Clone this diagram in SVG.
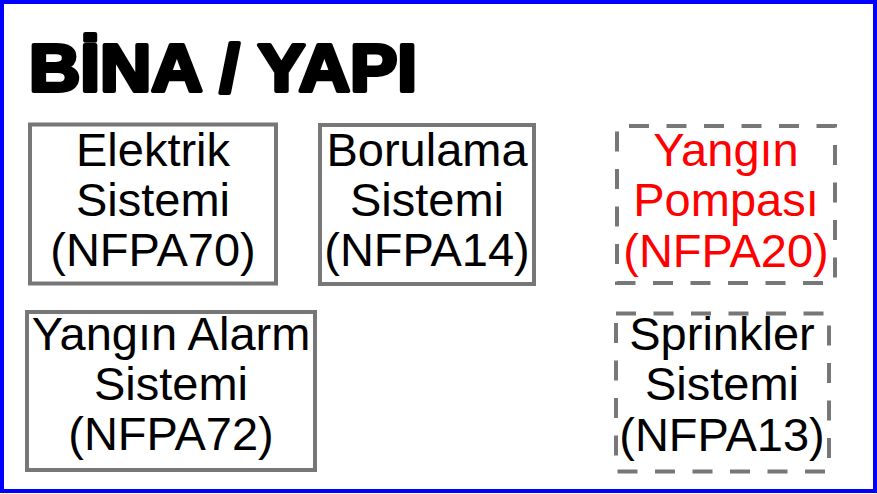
<svg xmlns="http://www.w3.org/2000/svg" width="877" height="494" viewBox="0 0 877 494">
<style>
.frame{fill:#fff;stroke:#0000ff;stroke-width:4}
.box{fill:#fff;stroke:#777;stroke-width:4}
.dash{fill:#fff;stroke:#777;stroke-width:4;stroke-dasharray:20 17.5}
.t{font-family:"Liberation Sans",Arial,sans-serif;font-size:47px;text-anchor:middle;fill:#000}
.red{fill:#ff0000}
.title{font-family:"Liberation Sans",Arial,sans-serif;font-size:66px;font-weight:bold;fill:#000;stroke:#000;stroke-width:4;stroke-linejoin:round}
</style>
<rect class="frame" x="2" y="2" width="873" height="489"/>
<g id="title"><text class="title" x="29" y="91" textLength="388" lengthAdjust="spacingAndGlyphs">BİNA / YAPI</text></g>
<g id="elektrik">
<rect class="box" x="30" y="124.5" width="246" height="159"/>
<text class="t" x="153" y="166">Elektrik</text>
<text class="t" x="153" y="216">Sistemi</text>
<text class="t" x="153" y="266">(NFPA70)</text>
</g>
<g id="borulama">
<rect class="box" x="320" y="125" width="214" height="159"/>
<text class="t" x="427" y="166">Borulama</text>
<text class="t" x="427" y="216">Sistemi</text>
<text class="t" x="427" y="266">(NFPA14)</text>
</g>
<g id="pompa">
<rect class="dash" x="617" y="126" width="218" height="157" stroke-dashoffset="-12"/>
<text class="t red" x="726" y="166">Yangın</text>
<text class="t red" x="726" y="216">Pompası</text>
<text class="t red" x="726" y="267">(NFPA20)</text>
</g>
<g id="alarm">
<rect class="box" x="27" y="312" width="288" height="158"/>
<text class="t" x="171" y="350">Yangın Alarm</text>
<text class="t" x="171" y="400">Sistemi</text>
<text class="t" x="171" y="450">(NFPA72)</text>
</g>
<g id="sprinkler">
<rect class="dash" x="616" y="313.5" width="213" height="158"/>
<text class="t" x="722" y="350">Sprinkler</text>
<text class="t" x="722" y="400">Sistemi</text>
<text class="t" x="722" y="451">(NFPA13)</text>
</g>
<g id="connectors"></g>
</svg>
